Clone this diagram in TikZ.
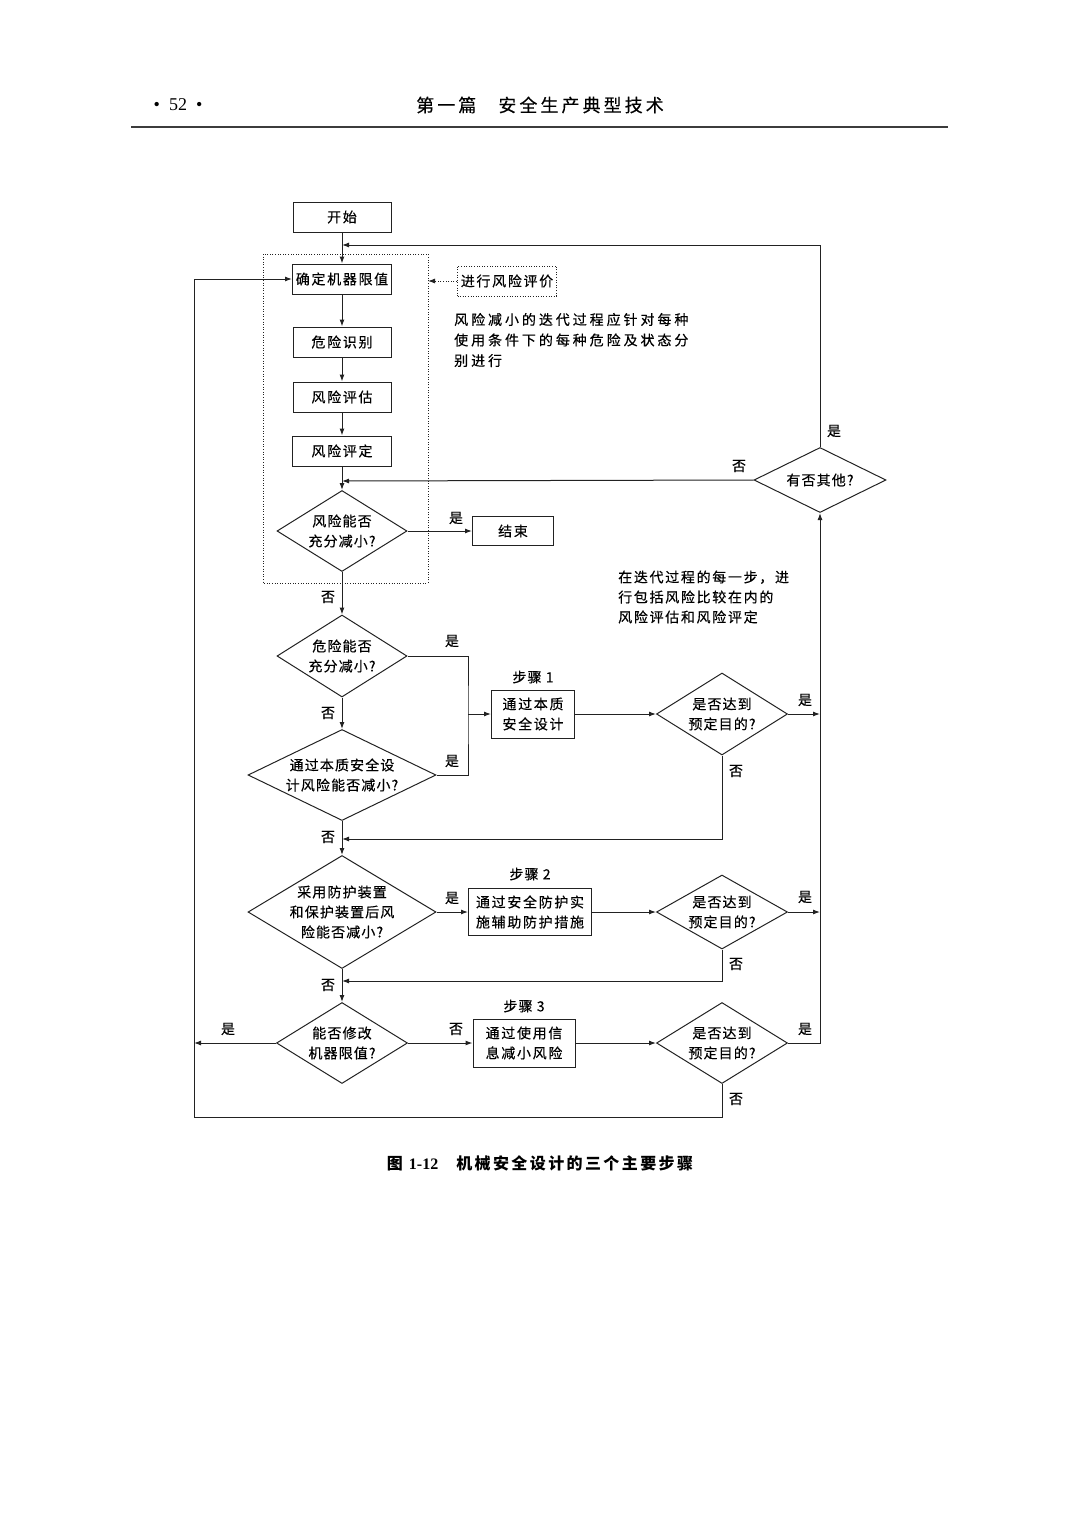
\documentclass[tikz,border=0pt]{standalone}
\usepackage{fontspec}
\setmainfont{Noto Sans CJK SC}[LetterSpace=8,FakeBold=0.4]
\newfontfamily\fonteLatina{Liberation Serif}
\newfontfamily\fonteLarga{Noto Sans CJK SC}[LetterSpace=21,FakeBold=0.4]
\newfontfamily\fonteMedia{Noto Sans CJK SC}[LetterSpace=12,FakeBold=0.4]
\newfontfamily\fonteCabec{Noto Sans CJK SC}[LetterSpace=17,FakeBold=0.2]
\newfontfamily\fonteLegenda{Noto Sans CJK SC}[LetterSpace=15]
\usetikzlibrary{shapes.geometric,arrows.meta}

\definecolor{cor_linha}{HTML}{222222}
\definecolor{cor_regua}{HTML}{3C3C3C}

\begin{document}
\begin{tikzpicture}[x=1pt,y=-1pt,font=\fontsize{14}{20}\selectfont,
        >={Latex[length=7pt,width=5pt]}]
        \tikzset{
            caixa/.style={
                draw=cor_linha,
                line width=1pt,
                minimum width=#1,
                minimum height=30pt,
                inner sep=0pt,
                align=center,
                font=\fontsize{14}{20}\fonteMedia
            },
            losango/.style n args={3}{
                diamond,
                draw=cor_linha,
                line width=1pt,
                minimum width=#1,
                minimum height=#2,
                aspect=#3,
                inner xsep=-12pt,
                inner ysep=-4pt,
                align=center
            },
            rot/.style={inner sep=0pt},
            seta/.style={draw=cor_linha, line width=1pt, ->},
            linha/.style={draw=cor_linha, line width=1pt},
            pontilhado/.style={draw=cor_linha, line width=0.9pt, dash pattern=on 1pt off 1.6pt}
        }
        \useasboundingbox (0,0) rectangle (1080,1518);

        % cabecalho
        \node[font=\fontsize{18}{20}\fonteLatina] (pagina) at (178,105) {•\hspace{9pt}52\hspace{9pt}•};
        \node[font=\fontsize{18}{20}\fonteCabec] (titulo) at (540,105) {第一篇\hspace{22pt}安全生产典型技术};
        \draw[cor_regua, line width=2.5pt] (131,127) -- (948,127);

        % caixas
        \node[caixa=98pt] (inicio) at (342,217) {开始};
        \node[caixa=99pt] (limites) at (342,279) {确定机器限值};
        \node[caixa=98pt] (perigos) at (342,342) {危险识别};
        \node[caixa=98pt] (estimativa) at (342,397) {风险评估};
        \node[caixa=99pt] (avaliacao) at (342,451) {风险评定};
        \node[caixa=81pt, minimum height=29pt] (fim) at (513,531) {结束};
        \node[caixa=83pt, minimum height=48pt] (passo1) at (533,714) {通过本质\\安全设计};
        \node[caixa=123pt, minimum height=47pt] (passo2) at (530,912) {通过安全防护实\\施辅助防护措施};
        \node[caixa=102pt, minimum height=48pt] (passo3) at (524,1043) {通过使用信\\息减小风险};
        \node[caixa=99pt, pontilhado] (avaliar) at (507,281) {进行风险评价};

        % losangos
        \node[losango={130pt}{81pt}{1.6}] (dec1) at (342,531) {风险能否\\充分减小?};
        \node[losango={130pt}{82pt}{1.6}] (dec2) at (342,656) {危险能否\\充分减小?};
        \node[losango={188pt}{91pt}{2.07}] (dec3) at (342,775) {通过本质安全设\\计风险能否减小?};
        \node[losango={188pt}{113pt}{1.66}] (dec4) at (342,912) {采用防护装置\\和保护装置后风\\险能否减小?};
        \node[losango={131pt}{81pt}{1.62}] (dec5) at (342,1043) {能否修改\\机器限值?};
        \node[losango={131pt}{82pt}{1.6}] (meta1) at (722,714) {是否达到\\预定目的?};
        \node[losango={131pt}{74pt}{1.77}] (meta2) at (722,912) {是否达到\\预定目的?};
        \node[losango={131pt}{81pt}{1.62}] (meta3) at (722,1043) {是否达到\\预定目的?};
        \node[losango={132pt}{65pt}{2.03}] (outros) at (820,480) {有否其他?};

        % moldura pontilhada
        \draw[pontilhado] (263,254) rectangle (428,583);
        \coordinate (moldura_dir) at (428,281);

        % pontos de juncao
        \coordinate (ret_topo) at (342,245);
        \coordinate (ret_meio) at (342,481);
        \coordinate (junta) at (468,714);
        \coordinate (ret_p1) at (342,839);
        \coordinate (ret_p2) at (342,981);
        \coordinate (saida_esq) at (194,1043);
        \coordinate (canto_esq) at (194,1117);
        \coordinate (dir_p1) at (820,714);
        \coordinate (dir_p2) at (820,912);

        % ligacoes
        \draw[seta] (inicio) -- (limites);
        \draw[seta] (outros.north) |- (ret_topo);
        \draw[seta] (limites) -- (perigos);
        \draw[seta] (perigos) -- (estimativa);
        \draw[seta] (estimativa) -- (avaliacao);
        \draw[seta] (avaliacao) -- (dec1);
        \draw[seta] (outros.west) -- (ret_meio);
        \draw[seta] (dec1.east) -- (fim.west);
        \draw[seta] (dec1) -- (dec2);
        \draw[linha] (dec2.east) -| (junta) |- (dec3.east);
        \draw[seta] (junta) -- (passo1.west);
        \draw[seta] (dec2) -- (dec3);
        \draw[seta] (passo1) -- (meta1);
        \draw[seta] (meta1.east) -- (dir_p1);
        \draw[seta] (meta1.south) |- (ret_p1);
        \draw[seta] (dec3) -- (dec4);
        \draw[seta] (dec4) -- (passo2);
        \draw[seta] (passo2) -- (meta2);
        \draw[seta] (meta2.east) -- (dir_p2);
        \draw[seta] (meta2.south) |- (ret_p2);
        \draw[seta] (dec4) -- (dec5);
        \draw[seta] (dec5.west) -- (saida_esq);
        \draw[seta] (dec5) -- (passo3);
        \draw[seta] (passo3) -- (meta3);
        \draw[seta] (meta3.east) -| (outros.south);
        \draw[seta] (meta3.south) |- (canto_esq) |- (limites.west);
        \draw[pontilhado, ->] (avaliar) -- (moldura_dir);

        % rotulos sim / nao
        \node[rot] (s1) at (456,518) {是};
        \node[rot] (n1) at (328,597) {否};
        \node[rot] (s2) at (452,641) {是};
        \node[rot] (n2) at (328,713) {否};
        \node[rot] (s3) at (452,761) {是};
        \node[rot] (n3) at (328,837) {否};
        \node[rot] (s4) at (452,898) {是};
        \node[rot] (n4) at (328,985) {否};
        \node[rot] (s5) at (228,1029) {是};
        \node[rot] (n5) at (456,1029) {否};
        \node[rot] (s6) at (805,700) {是};
        \node[rot] (n6) at (736,771) {否};
        \node[rot] (s7) at (805,897) {是};
        \node[rot] (n7) at (736,964) {否};
        \node[rot] (s8) at (805,1029) {是};
        \node[rot] (n8) at (736,1099) {否};
        \node[rot] (s9) at (834,431) {是};
        \node[rot] (n9) at (739,466) {否};

        % passos
        \node[rot] (t1) at (533,677) {步骤 1};
        \node[rot] (t2) at (530,874) {步骤 2};
        \node[rot] (t3) at (524,1006) {步骤 3};

        % notas
        \node[rot, anchor=west, align=left, font=\fontsize{14}{20.5}\fonteLarga] (nota1) at (454,340)
            {风险减小的迭代过程应针对每种\\使用条件下的每种危险及状态分\\别进行};
        \node[rot, anchor=west, align=left, font=\fontsize{14}{20}\fonteMedia] (nota2) at (618,597)
            {在迭代过程的每一步，进\\行包括风险比较在内的\\风险评估和风险评定};

        % legenda
        \node[font=\fontsize{16}{20}\fonteLegenda\bfseries] (legenda) at (540,1163)
            {图 {\fonteLatina\bfseries 1-12}\hspace{18pt}机械安全设计的三个主要步骤};

    \end{tikzpicture}
\end{document}
